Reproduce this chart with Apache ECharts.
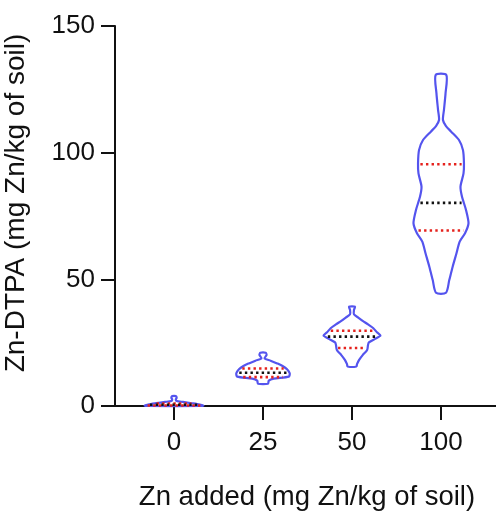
<!DOCTYPE html>
<html>
<head>
<meta charset="utf-8">
<script src="https://cdn.jsdelivr.net/npm/echarts@6/dist/echarts.min.js"></script>
<style>
  html, body { margin: 0; padding: 0; background: #fff; }
  #chart { width: 496px; height: 511px; }
</style>
</head>
<body>
<div id="chart"></div>
<script>
  // groups on the x axis
  const categories = ['0', '25', '50', '100'];
  const yTicks = [0, 50, 100, 150];

  // violin outlines: [Zn-DTPA, half width as fraction of a category], bottom -> top
  const violin0 = [[0, 0.30], [0.2, 0.33], [0.6, 0.29], [1.1, 0.2], [1.6, 0.1], [2.0, 0.03], [2.6, 0.02], [3.3, 0.03], [3.9, 0.02]];
  const violin25 = [[8.8, 0.056], [10.0, 0.065], [10.8, 0.12], [11.6, 0.29], [12.9, 0.3], [14.5, 0.27], [15.8, 0.22], [16.8, 0.16], [17.9, 0.085], [18.8, 0.017], [20.1, 0.04], [21.0, 0.03]];
  const violin50 = [[15.6, 0.05], [16.5, 0.056], [18.2, 0.08], [20.1, 0.12], [22.1, 0.17], [24.1, 0.18], [25.1, 0.19], [26.5, 0.26], [27.8, 0.32], [29.1, 0.28], [30.7, 0.24], [32.2, 0.18], [33.6, 0.12], [34.9, 0.07], [36.2, 0.022], [37.9, 0.022], [39.2, 0.034]];
  const violin100 = [[44.7, 0.056], [49.7, 0.093], [55, 0.131], [60.3, 0.174], [64.9, 0.21], [68.2, 0.27], [72.1, 0.309], [77.4, 0.281], [82.6, 0.236], [86.6, 0.219], [91.8, 0.253], [95.8, 0.258], [101, 0.247], [105, 0.202], [108.4, 0.112], [110.5, 0.056], [112.9, 0.022], [116.8, 0.033], [123.4, 0.051], [130.7, 0.06]];

  // quartiles per group
  const q1 = [0.2, 11.4, 22.9, 69.3];
  const median = [0.5, 13.1, 27.4, 80.2];
  const q3 = [1.0, 14.8, 29.7, 95.4];

  const profiles = [violin0, violin25, violin50, violin100];

  const FONT = '"Liberation Sans", Arial, Helvetica, sans-serif';

  function halfAt(prof, v) {
    for (let k = 1; k < prof.length; k++) {
      if (v <= prof[k][0]) {
        const a = prof[k - 1], b = prof[k];
        const t = (v - a[0]) / (b[0] - a[0]);
        return a[1] + t * (b[1] - a[1]);
      }
    }
    return prof[prof.length - 1][1];
  }

  let myChart = echarts.init(document.getElementById('chart'));

  myChart.setOption({
    animation: false,
    grid: { left: 115, right: 0, top: 26, bottom: 105 },
    xAxis: {
      type: 'value',
      min: -0.663,
      max: 3.618,
      axisLine: { onZero: false, lineStyle: { color: '#111', width: 2 } },
      axisTick: { customValues: [0, 1, 2, 3], length: 14, lineStyle: { color: '#111', width: 2 } },
      axisLabel: {
        customValues: [0, 1, 2, 3],
        margin: 24,
        color: '#111',
        fontSize: 26,
        fontFamily: FONT,
        formatter: function (v) { return categories[Math.round(v)]; }
      },
      splitLine: { show: false }
    },
    yAxis: {
      type: 'value',
      min: 0,
      max: 150,
      interval: 50,
      axisLine: { show: true, onZero: false, lineStyle: { color: '#111', width: 2 } },
      axisTick: { show: true, length: 14, lineStyle: { color: '#111', width: 2 } },
      axisLabel: {
        margin: 20,
        color: '#111',
        fontSize: 26,
        fontFamily: FONT,
        formatter: function (v) { return yTicks.indexOf(v) >= 0 ? String(v) : ''; }
      },
      splitLine: { show: false }
    },
    graphic: [
      {
        type: 'text', x: 307, y: 497,
        style: { text: 'Zn added (mg Zn/kg of soil)', font: '27.5px ' + FONT, fill: '#111', textAlign: 'center', textVerticalAlign: 'middle' }
      },
      {
        type: 'text', x: 16, y: 203, rotation: Math.PI / 2,
        style: { text: 'Zn-DTPA (mg Zn/kg of soil)', font: '28px ' + FONT, fill: '#111', textAlign: 'center', textVerticalAlign: 'middle' }
      }
    ],
    series: [{
      type: 'custom',
      clip: false,
      data: categories.map(function (c, i) { return [i]; }),
      renderItem: function (params, api) {
        const i = api.value(0);
        const prof = profiles[i];
        const pts = [];
        prof.forEach(function (p) { pts.push(api.coord([i + p[1], p[0]])); });
        for (let k = prof.length - 1; k >= 0; k--) pts.push(api.coord([i - prof[k][1], prof[k][0]]));

        const children = [{
          type: 'polygon',
          shape: { points: pts, smooth: 0.25 },
          style: { fill: 'none', stroke: '#5454ee', lineWidth: 2.2 }
        }];

        [[q3[i], '#e5221d'], [median[i], '#111'], [q1[i], '#e5221d']].forEach(function (q) {
          const hw = halfAt(prof, q[0]) * 0.9;
          const a = api.coord([i - hw, q[0]]);
          const b = api.coord([i + hw, q[0]]);
          children.push({
            type: 'line',
            shape: { x1: a[0], y1: a[1], x2: b[0], y2: b[1] },
            style: { stroke: q[1], lineWidth: 2.6, lineDash: [2.4, 3.2], lineCap: 'butt' }
          });
        });

        return { type: 'group', children: children };
      }
    }]
  });
</script>
</body>
</html>
